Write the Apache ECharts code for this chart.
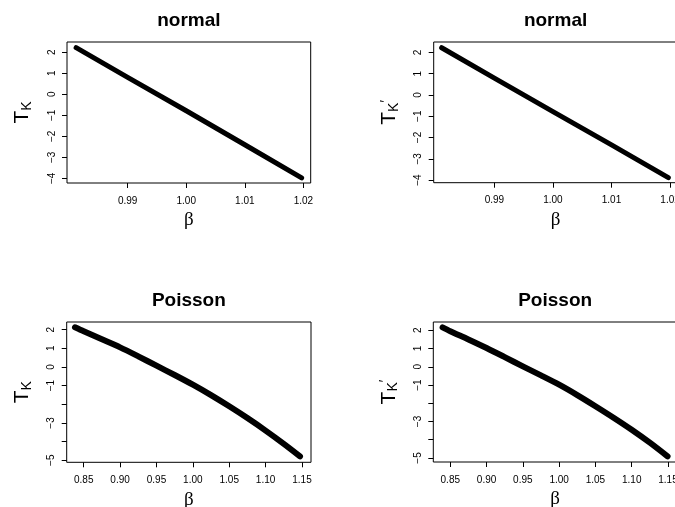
<!DOCTYPE html>
<html><head><meta charset="utf-8">
<script src="https://cdn.jsdelivr.net/npm/echarts@6/dist/echarts.min.js"></script>
<style>html,body{margin:0;padding:0;background:#fff;}#c{width:675px;height:507px;}</style>
</head><body><div id="c"></div>
<script>
// ---- data ----
var normalBetaA = [0.9812, 0.9900, 1.0000, 1.0100, 1.0197];
var normalTK    = [2.22, 0.81, -0.78, -2.40, -3.98];
var normalBetaB = [0.9810, 0.9900, 1.0000, 1.0100, 1.0197];
var normalTKp   = [2.22, 0.79, -0.78, -2.35, -3.89];
var poisBetaA   = [0.838, 0.850, 0.875, 0.900, 0.925, 0.950, 0.975, 1.000, 1.025, 1.050, 1.075, 1.100, 1.125, 1.1473];
var poisTK      = [2.125, 1.91, 1.48, 1.05, 0.57, 0.07, -0.43, -0.95, -1.51, -2.11, -2.74, -3.41, -4.12, -4.79];
var poisBetaB   = [0.8394, 0.850, 0.875, 0.900, 0.925, 0.950, 0.975, 1.000, 1.025, 1.050, 1.075, 1.100, 1.125, 1.1494];
var poisTKp     = [2.16, 1.95, 1.50, 1.03, 0.53, 0.02, -0.47, -0.98, -1.55, -2.16, -2.79, -3.45, -4.16, -4.91];
var titles      = ['normal', 'normal', 'Poisson', 'Poisson'];
var xTicksNormal  = [0.99, 1.00, 1.01, 1.02];
var yTicksNormal  = [-4, -3, -2, -1, 0, 1, 2];
var xTicksPoisson = [0.85, 0.90, 0.95, 1.00, 1.05, 1.10, 1.15];
var yTicksPoisson = [-5, -4, -3, -2, -1, 0, 1, 2];
var yLabelsPoisson = [-5, -3, -1, 0, 1, 2];

var FONT = 'Liberation Sans, Arial, Helvetica, sans-serif';
var panels = [
  {grid:{left:67, top:42, width:243.7, height:141}, xr:[0.97964,1.02125], yr:[-4.22,2.49],
   xt:xTicksNormal, yt:yTicksNormal, yl:yTicksNormal, bx:normalBetaA, by:normalTK, prime:false, lw:5, smooth:false},
  {grid:{left:433.7, top:42, width:243.7, height:140.7}, xr:[0.97964,1.02125], yr:[-4.125,2.49],
   xt:xTicksNormal, yt:yTicksNormal, yl:yTicksNormal, bx:normalBetaB, by:normalTKp, prime:true, lw:5, smooth:false},
  {grid:{left:66.7, top:322, width:244.3, height:140.3}, xr:[0.8266,1.1624], yr:[-5.11,2.41],
   xt:xTicksPoisson, yt:yTicksPoisson, yl:yLabelsPoisson, bx:poisBetaA, by:poisTK, prime:false, lw:6, smooth:0.3},
  {grid:{left:433.3, top:322, width:243.7, height:140}, xr:[0.8266,1.1624], yr:[-5.22,2.455],
   xt:xTicksPoisson, yt:yTicksPoisson, yl:yLabelsPoisson, bx:poisBetaB, by:poisTKp, prime:true, lw:6, smooth:0.3}
];

var grids=[], xAxes=[], yAxes=[], series=[], graphics=[];
panels.forEach(function(p, i){
  grids.push(Object.assign({show:true, borderColor:'#000', borderWidth:1, backgroundColor:'transparent',
    containLabel:false, outerBoundsMode:'none'}, p.grid));
  xAxes.push({type:'value', gridIndex:i, min:p.xr[0], max:p.xr[1], position:'bottom',
    axisLine:{show:false, onZero:false}, splitLine:{show:false},
    axisTick:{show:true, inside:false, length:5, customValues:p.xt, lineStyle:{color:'#000'}},
    axisLabel:{show:true, customValues:p.xt, margin:13, color:'#000', fontSize:10, fontFamily:FONT,
      formatter:function(v){return v.toFixed(2);}},
    name:'β', nameLocation:'middle', nameGap:28,
    nameTextStyle:{fontSize:19, fontFamily:'Liberation Serif, DejaVu Serif, serif', color:'#000'}
  });
  var yl = p.yl;
  yAxes.push({type:'value', gridIndex:i, min:p.yr[0], max:p.yr[1], position:'left',
    axisLine:{show:false, onZero:false}, splitLine:{show:false},
    axisTick:{show:true, inside:false, length:5, customValues:p.yt, lineStyle:{color:'#000'}},
    axisLabel:{show:true, customValues:p.yt, rotate:90, margin:10, color:'#000', fontSize:10, fontFamily:FONT,
      formatter:function(v){return yl.indexOf(Math.round(v))>=0 ? String(Math.round(v)).replace('-','\u2212') : '';}},
    name: p.prime ? '{t|T}{k|K}{p|′}' : '{t|T}{k|K}', nameLocation:'middle', nameGap:33, nameRotate:90,
    nameTextStyle:{color:'#000', fontFamily:FONT,
      rich:{
        t:{fontSize:21, fontFamily:FONT, color:'#000', verticalAlign:'top', lineHeight:22, padding:[0,0,3,0]},
        k:{fontSize:14, fontFamily:FONT, color:'#000', verticalAlign:'bottom', lineHeight:15},
        p:{fontSize:14, fontFamily:FONT, color:'#000', verticalAlign:'top', lineHeight:15}
      }}
  });
  series.push({type:'line', xAxisIndex:i, yAxisIndex:i, data:p.bx.map(function(b,j){return [b,p.by[j]];}),
    showSymbol:false, symbol:'none', smooth:p.smooth, silent:true, animation:false, clip:true,
    lineStyle:{color:'#000', width:p.lw, cap:'round', join:'round'}});
  graphics.push({type:'text', x:p.grid.left + p.grid.width/2, y:(i<2?20.5:300.5),
    style:{text:titles[i], font:'bold 19px ' + FONT, fill:'#000', textAlign:'center', textVerticalAlign:'middle'}});
});

var chart = echarts.init(document.getElementById('c'), null, {renderer:'canvas'});
chart.setOption({animation:false, backgroundColor:'#fff', grid:grids, xAxis:xAxes, yAxis:yAxes, series:series, graphic:graphics});
</script></body></html>
